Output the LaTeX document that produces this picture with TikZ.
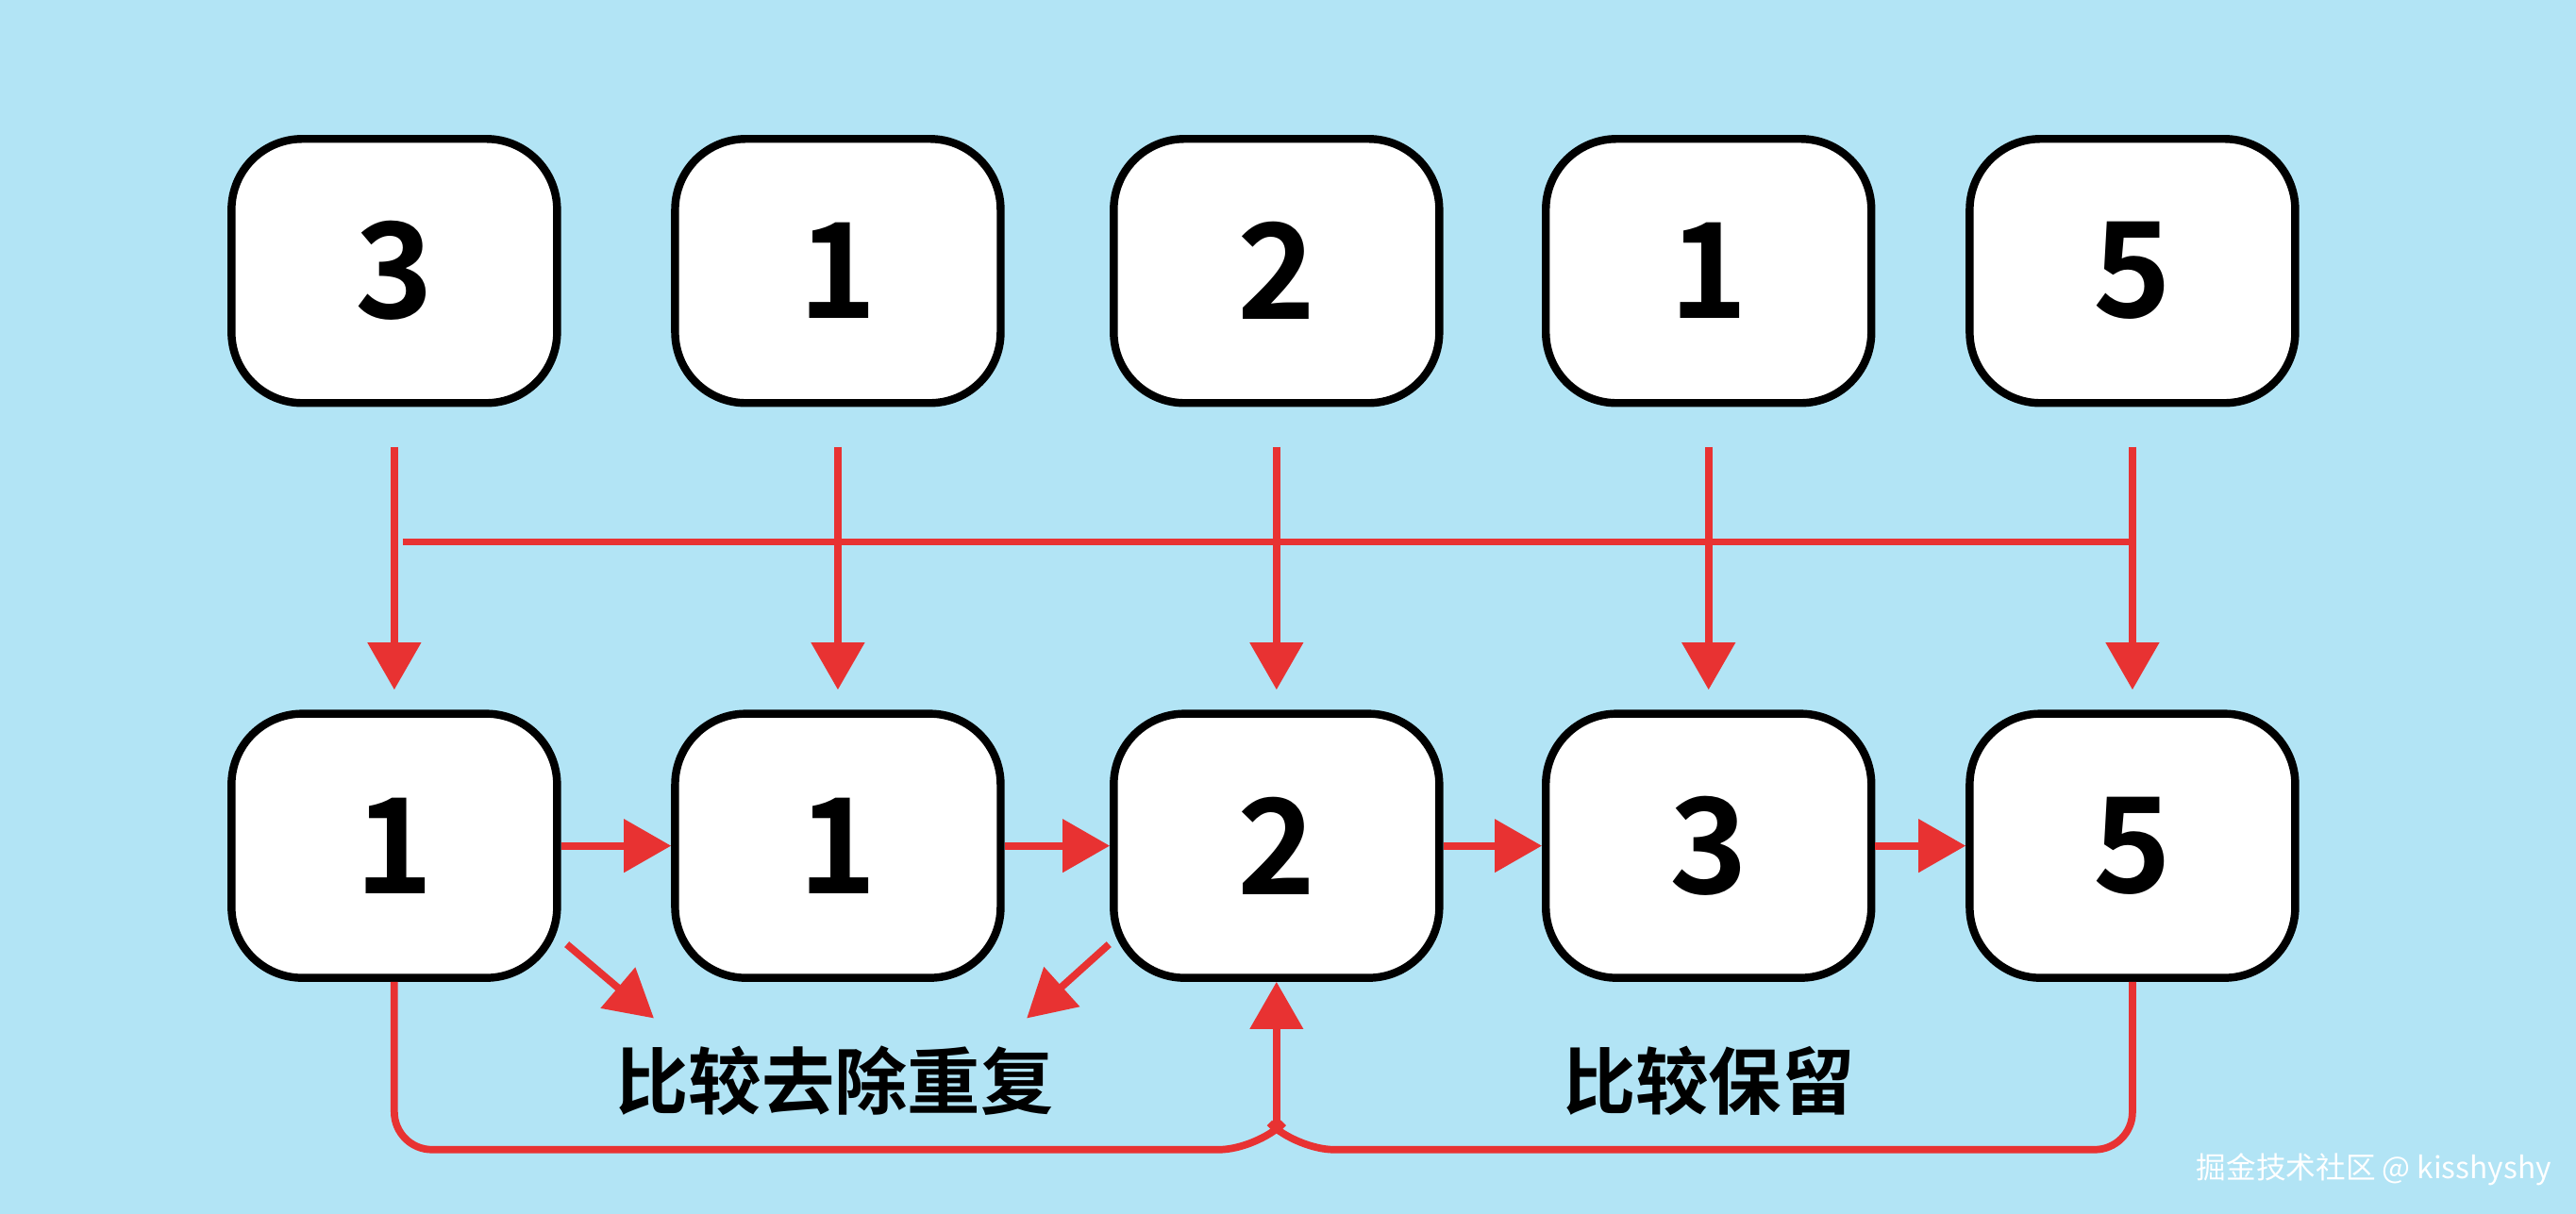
\documentclass[tikz,border=0pt]{standalone}
\usepackage{fontspec}
\setmainfont{Noto Sans CJK SC}
\newfontfamily\cjk[BoldFont={Noto Sans CJK SC Bold}]{Noto Sans CJK SC}
\usetikzlibrary{arrows.meta}
\definecolor{bgblue}{RGB}{178,228,245}
\definecolor{arrowred}{RGB}{232,50,50}
\tikzset{
  numbox/.style={draw=black, line width=2.4pt, fill=white, rounded corners=0.75cm,
    minimum width=3.45cm, minimum height=2.8cm, font=\cjk\bfseries\fontsize{40}{40}\selectfont},
  redline/.style={draw=arrowred, line width=2.2pt},
  redarrow/.style={redline, -{Triangle[length=0.5cm, width=0.55cm]}}
}
\begin{document}
\begin{tikzpicture}[x=0.01741cm, y=-0.01741cm]
  \useasboundingbox (0, 0) rectangle (1568, 739);
  \fill [bgblue] (0, 0) rectangle (1568, 739);
  % top row
  \foreach \n/\x/\v in {t1/240/3, t2/510/1, t3/777/2, t4/1040/1, t5/1298/5}
    \node [numbox] (\n) at (\x, 165) {\v};
  % bottom row
  \foreach \n/\x/\v in {b1/240/1, b2/510/1, b3/777/2, b4/1040/3, b5/1298/5}
    \node [numbox] (\n) at (\x, 515) {\v};
  % feed lines
  \foreach \x in {240, 510, 777, 1040, 1298} {
    \coordinate (s\x) at (\x, 272);
    \coordinate (e\x) at (\x, 420);
    \draw [redarrow] (s\x) -- (e\x);
  }
  \draw [redline] (245, 330) -- (1298, 330);
  % sorted chain
  \foreach \a/\b in {b1/b2, b2/b3, b3/b4, b4/b5}
    \draw [redarrow] (\a.east) -- (\b.west);
  % compare arrows
  \coordinate (c1) at (345, 575); \coordinate (d1) at (398, 620);
  \coordinate (c2) at (675, 575); \coordinate (d2) at (625, 620);
  \draw [redarrow] (c1) -- (d1);
  \draw [redarrow] (c2) -- (d2);
  \node [font=\cjk\bfseries\fontsize{22}{22}\selectfont] (lbl1) at (508, 658) {比较去除重复};
  \node [font=\cjk\bfseries\fontsize{22}{22}\selectfont] (lbl2) at (1040, 658) {比较保留};
  % bottom brackets
  \coordinate (j) at (777, 688);
  \draw [redline, rounded corners=0.4cm] (b1.south) -- (240, 700) -- (765, 700) -- (j);
  \draw [redline, rounded corners=0.4cm] (b5.south) -- (1298, 700) -- (789, 700) -- (j);
  \draw [redarrow] (j) -- (b3.south);
  % watermark
  \node [anchor=east, text=white, font=\cjk\fontsize{9}{9}\selectfont] (wm) at (1560, 712) {掘金技术社区 @ kisshyshy};
\end{tikzpicture}
\end{document}
